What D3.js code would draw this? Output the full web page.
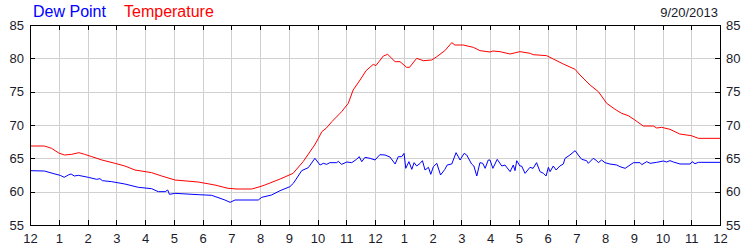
<!DOCTYPE html>
<html>
<head>
<meta charset="utf-8">
<script src="https://cdn.jsdelivr.net/npm/d3@7"></script>
<style>
  body { margin: 0; background: #fff; }
  text { font-family: Arial, "Liberation Sans", sans-serif; }
</style>
</head>
<body>
<div id="chart"></div>
<script>
// hour of day -> degrees F
let temperature = [
  [0, 66.85], [0.5, 66.85], [0.75, 66.5], [1.0, 65.8], [1.2, 65.5], [1.45, 65.6], [1.7, 65.85],
  [1.9, 65.6], [2.15, 65.25], [2.5, 64.75], [2.96, 64.25], [3.3, 63.85], [3.65, 63.25],
  [4.23, 62.85], [4.58, 62.35], [5.04, 61.75], [5.85, 61.45], [6.43, 61.0], [6.89, 60.5],
  [7.2, 60.4], [7.71, 60.4], [8.0, 60.75], [8.17, 61.0], [8.7, 61.9], [9.15, 62.75],
  [9.5, 64.5], [9.9, 67.0], [10.03, 68.0], [10.15, 69.0], [10.3, 69.5], [10.5, 70.5],
  [10.84, 72.0], [11.07, 73.25], [11.24, 75.25], [11.48, 76.75], [11.69, 78.15], [11.94, 79.1],
  [12.03, 78.9], [12.29, 80.35], [12.44, 80.6], [12.7, 79.5], [12.87, 79.5], [13.1, 78.65],
  [13.2, 78.65], [13.45, 80.0], [13.68, 79.65], [13.97, 79.75], [14.15, 80.25], [14.43, 81.15],
  [14.67, 82.35], [14.78, 82.0], [15.07, 82.0], [15.42, 81.65], [15.65, 81.15], [16.0, 80.95],
  [16.1, 81.1], [16.35, 81.0], [16.7, 80.65], [17.04, 81.0], [17.4, 80.75], [17.5, 80.55],
  [17.97, 80.4], [18.2, 79.9], [18.55, 79.15], [18.96, 78.35], [19.13, 77.5], [19.48, 76.0],
  [19.77, 75.0], [20.06, 73.25], [20.35, 72.35], [20.58, 71.75], [20.81, 71.4], [21.04, 70.75],
  [21.33, 69.85], [21.68, 69.85], [21.8, 69.55], [21.97, 69.65], [22.26, 69.35], [22.6, 68.65],
  [23.0, 68.4], [23.25, 68.0], [24.0, 68.0]
];

let dewPoint = [
  [0, 63.15], [0.5, 63.1], [0.87, 62.65], [1.05, 62.45], [1.19, 62.15], [1.33, 62.5], [1.43, 62.65],
  [1.54, 62.35], [1.68, 62.45], [2.03, 62.15], [2.32, 61.85], [2.43, 61.95], [2.52, 61.65],
  [2.84, 61.5], [3.3, 61.15], [3.77, 60.65], [4.23, 60.45], [4.46, 60.0], [4.7, 60.0],
  [4.79, 60.25], [4.85, 59.6], [5.04, 59.75], [5.85, 59.55], [6.32, 59.45], [6.78, 58.75],
  [6.96, 58.4], [7.13, 58.75], [7.94, 58.75], [8.06, 59.15], [8.4, 59.5], [8.7, 60.15],
  [9.04, 60.75], [9.16, 61.25], [9.45, 63.15], [9.68, 63.6], [9.91, 65.0], [10.09, 64.0],
  [10.2, 64.25], [10.32, 64.1], [10.43, 64.35], [10.67, 64.35], [10.72, 64.55], [10.84, 64.1],
  [11.02, 64.45], [11.19, 64.35], [11.36, 64.85], [11.45, 65.25], [11.54, 64.5], [11.65, 65.15],
  [11.83, 65.0], [12.0, 64.75], [12.17, 65.55], [12.35, 65.5], [12.52, 65.2], [12.7, 64.15],
  [12.81, 65.25], [12.93, 65.25], [13.01, 65.75], [13.07, 63.5], [13.18, 64.5], [13.28, 63.35],
  [13.36, 64.35], [13.45, 63.85], [13.57, 64.25], [13.65, 64.65], [13.74, 63.25], [13.86, 63.65],
  [13.94, 62.6], [14.03, 63.75], [14.15, 64.25], [14.28, 62.5], [14.43, 63.35], [14.51, 64.0],
  [14.67, 64.15], [14.82, 65.85], [14.96, 64.75], [15.1, 65.75], [15.19, 65.5], [15.36, 64.15],
  [15.44, 63.85], [15.54, 62.35], [15.65, 64.35], [15.75, 64.25], [15.83, 63.5], [15.94, 64.75],
  [16.0, 64.75], [16.1, 63.5], [16.25, 64.85], [16.41, 63.85], [16.52, 64.0], [16.7, 63.0],
  [16.81, 64.0], [16.87, 63.15], [16.93, 64.65], [17.04, 63.85], [17.1, 63.85], [17.22, 62.75],
  [17.39, 63.65], [17.5, 63.5], [17.62, 64.35], [17.74, 63.0], [17.86, 62.75], [17.95, 62.35],
  [18.03, 63.65], [18.09, 63.0], [18.2, 63.85], [18.3, 63.25], [18.43, 63.85], [18.55, 64.15],
  [18.61, 65.0], [18.78, 65.5], [18.96, 66.15], [19.07, 65.5], [19.19, 64.85], [19.36, 64.65],
  [19.42, 64.25], [19.59, 65.0], [19.71, 64.65], [19.77, 64.35], [19.88, 64.75], [20.0, 64.35],
  [20.17, 64.15], [20.41, 64.0], [20.52, 63.75], [20.7, 63.5], [20.99, 64.35], [21.22, 64.35],
  [21.28, 64.05], [21.45, 64.5], [21.57, 64.25], [21.8, 64.4], [22.03, 64.6], [22.14, 64.45],
  [22.26, 64.65], [22.38, 64.45], [22.61, 64.15], [22.96, 64.15], [23.03, 64.5], [23.13, 64.2],
  [23.25, 64.4], [23.37, 64.4], [24.0, 64.4]
];

let hourTicks = d3.range(0, 25);
let hourLabels = ['12','1','2','3','4','5','6','7','8','9','10','11','12','1','2','3','4','5','6','7','8','9','10','11','12'];
let yTicks = [55, 60, 65, 70, 75, 80, 85];
let dateLabel = '9/20/2013';

let width = 750, height = 250;
let margin = {top: 25, bottom: 25, left: 30, right: 30};

let svg = d3.select('#chart').append('svg').attr('width', width).attr('height', height);

let xScale = d3.scaleLinear().domain([0, 24]).range([margin.left, width - margin.right]);
let yScale = d3.scaleLinear().domain([55, 85]).range([height - margin.bottom, margin.top]);

// grid
let grid = svg.append('g').attr('shape-rendering', 'crispEdges').attr('stroke', '#d0d0d0');
grid.selectAll('line.v').data(hourTicks.slice(1, -1)).enter().append('line')
  .attr('x1', d => Math.round(xScale(d)) + 0.5).attr('x2', d => Math.round(xScale(d)) + 0.5)
  .attr('y1', margin.top).attr('y2', height - margin.bottom);
grid.selectAll('line.h').data(yTicks.slice(1, -1)).enter().append('line')
  .attr('y1', d => Math.round(yScale(d)) + 0.5).attr('y2', d => Math.round(yScale(d)) + 0.5)
  .attr('x1', margin.left).attr('x2', width - margin.right);

// series
let line = d3.line().x(d => xScale(d[0])).y(d => yScale(d[1]));
svg.append('path').datum(temperature).attr('d', line)
  .attr('fill', 'none').attr('stroke', '#ff0000').attr('stroke-width', 1);
svg.append('path').datum(dewPoint).attr('d', line)
  .attr('fill', 'none').attr('stroke', '#0000ff').attr('stroke-width', 1);

// axes (ticks point inward)
let fmtX = (d, i) => hourLabels[i];
let axes = [
  d3.axisBottom(xScale).tickValues(hourTicks).tickSizeInner(-5).tickSizeOuter(0).tickFormat(fmtX),
  d3.axisTop(xScale).tickValues(hourTicks).tickSizeInner(-5).tickSizeOuter(0).tickFormat(''),
  d3.axisLeft(yScale).tickValues(yTicks).tickSizeInner(-5).tickSizeOuter(0),
  d3.axisRight(yScale).tickValues(yTicks).tickSizeInner(-5).tickSizeOuter(0)
];
let pos = [
  [0, height - margin.bottom], [0, margin.top], [margin.left, 0], [width - margin.right, 0]
];
axes.forEach((ax, i) => {
  let g = svg.append('g')
    .attr('transform', 'translate(' + pos[i] + ')')
    .call(ax);
  g.selectAll('line, path').attr('stroke', '#000').attr('shape-rendering', 'crispEdges');
  g.selectAll('text').attr('fill', '#1a1a2a').style('font-size', '13px');
  if (i == 0) g.selectAll('text').attr('y', 8.5).attr('dy', '0.71em');
  if (i == 2) g.selectAll('text').attr('x', -6);
  if (i == 3) g.selectAll('text').attr('x', 6);
});

// titles
svg.append('text').attr('x', 33).attr('y', 17).attr('fill', '#0000ff')
  .style('font-size', '16px').text('Dew Point');
svg.append('text').attr('x', 124).attr('y', 17).attr('fill', '#ff0000')
  .style('font-size', '16px').text('Temperature');
svg.append('text').attr('x', 718).attr('y', 17).attr('text-anchor', 'end').attr('fill', '#1a1a2a')
  .style('font-size', '13px').text(dateLabel);
</script>
</body>
</html>
